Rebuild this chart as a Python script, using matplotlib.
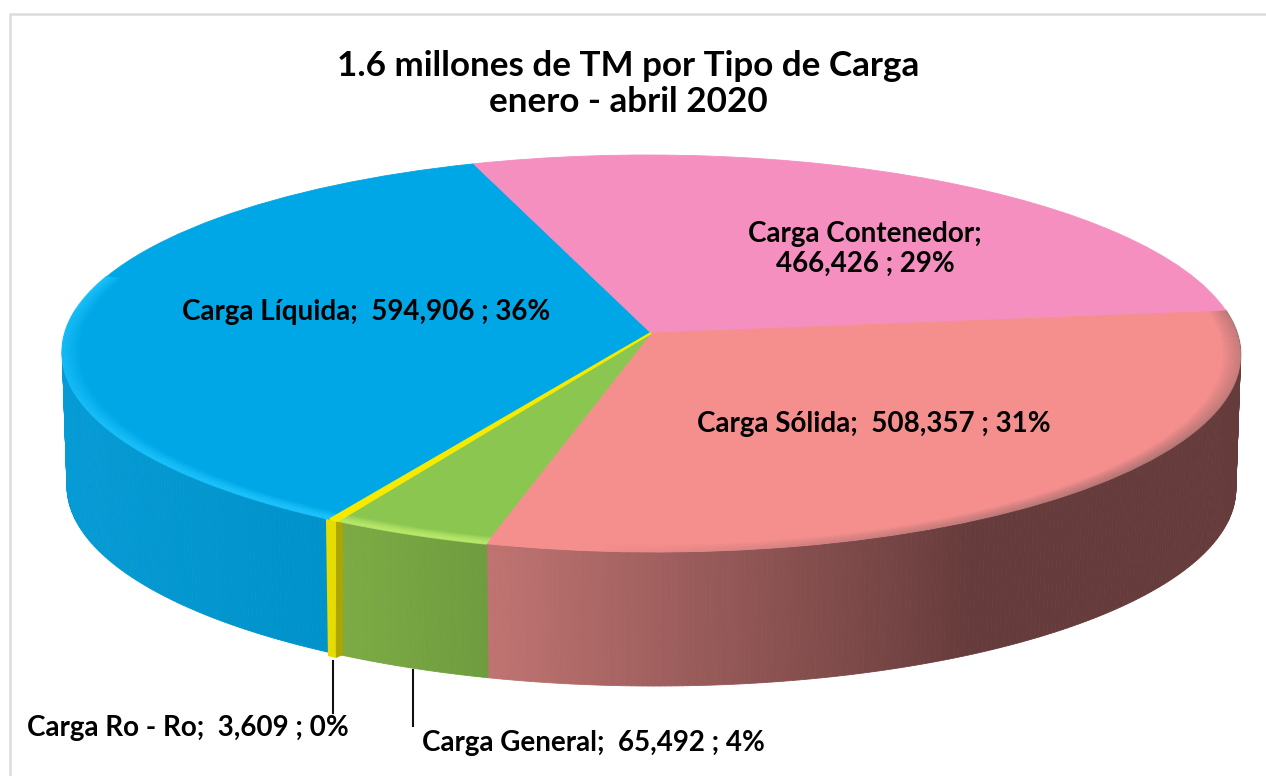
import matplotlib
matplotlib.use('Agg')
import matplotlib.pyplot as plt
from matplotlib.transforms import Transform
from matplotlib.collections import LineCollection
from matplotlib.colors import to_rgb
import numpy as np

categorias = ['Carga Líquida', 'Carga Contenedor', 'Carga Sólida', 'Carga General', 'Carga Ro - Ro']
valores = [594906, 466426, 508357, 65492, 3609]
porcentajes = [36, 29, 31, 4, 0]
colores = ['#00a7e6', '#f48fc0', '#f48f8e', '#8bc651', '#f5ea00']
titulo = '1.6 millones de TM por Tipo de Carga\nenero - abril 2020'

# degrade de la pared lateral (color izq, color der, x izq, x der)
pared = [('#069bd5', '#0092ca', 62, 330),
         None,
         ('#c07472', '#663b3b', 487, 975),
         ('#7cab44', '#6f9c3f', 343, 487),
         None]

CX, CY = 651, 333      # vertice del pie
A, B, K, S = 586, 196.4, 0.1033, 4
PROF = 134             # altura del cilindro
ESC = 0.992


# circulo unidad -> pixeles con perspectiva
class Perspectiva(Transform):
    input_dims = 2
    output_dims = 2
    is_separable = False

    def transform_non_affine(self, v):
        v = np.asarray(v, dtype=float)
        x, y = v[:, 0], v[:, 1]
        w = 1 + K * y
        return np.column_stack([CX + (A * x - S * y) / w, CY - B * y / w])


persp = Perspectiva()


def borde(t, r=1.0):
    t = np.radians(t)
    return persp.transform_non_affine(np.column_stack([r * np.cos(t), r * np.sin(t)]))


def bisel(t0, t1, color, fuerza):
    # fuerza: funcion del angulo, da la opacidad maxima del brillo
    ts = np.arange(t0, t1 + 0.25, 0.25)
    ts = ts[np.sin(np.radians(ts)) < 0.3]
    if len(ts) < 2:
        return
    tm = (ts[:-1] + ts[1:]) / 2
    rgb = to_rgb(color)
    for j, r in enumerate(np.linspace(0.972, 1.0, 9)):
        pts = borde(ts, r)
        segs = np.stack([pts[:-1], pts[1:]], axis=1)
        alfa = fuerza(tm) * (0.1 + 0.9 * j / 8)
        cols = np.column_stack([np.full((len(tm), 3), rgb), alfa])
        ax.add_collection(LineCollection(segs, colors=cols, linewidths=1.4, zorder=3.5, capstyle='butt'))


plt.rcParams['font.family'] = ['Lato', 'DejaVu Sans']

fig = plt.figure(figsize=(12.66, 7.76), dpi=100)
ax = fig.add_axes([0, 0, 1, 1])
wedges, _ = ax.pie(valores, colors=colores, startangle=239.7, counterclock=False)
ax.set_aspect('auto')
ax.set_xlim(0, 1266)
ax.set_ylim(776, 0)
ax.axis('off')

# marco
ax.plot([10, 10, 1266], [776, 14, 14], color='#dcdcdc', lw=1.8, zorder=0, solid_capstyle='butt')

for w, col in zip(wedges, colores):
    w.set_transform(persp + ax.transData)
    w.set_zorder(3)
    w.set_edgecolor(col)
    w.set_linewidth(0.6)
wedges[4].set_linewidth(1.6)
wedges[4].set_zorder(4)

# paredes laterales, tiras verticales
for w, grad in zip(wedges, pared):
    if grad is None:
        continue
    c0, c1 = np.array(to_rgb(grad[0])), np.array(to_rgb(grad[1]))
    ts = np.arange(w.theta1, w.theta2 + 0.5, 0.5)
    ts = ts[np.sin(np.radians(ts)) < 0.13]
    pts = borde(ts)
    for i in range(len(ts) - 1):
        p, q = pts[i], pts[i + 1]
        xm = (p[0] + q[0]) / 2
        f = np.clip((xm - grad[2]) / (grad[3] - grad[2]), 0, 1)
        col = c0 + (c1 - c0) * f
        xs = [p[0], q[0], CX + (q[0] - CX) * ESC, CX + (p[0] - CX) * ESC]
        ys = [p[1], q[1], q[1] + PROF, p[1] + PROF]
        ax.fill(xs, ys, color=col, lw=0.6, zorder=2)

# tira amarilla de Ro - Ro
mid = borde(np.array([(wedges[4].theta1 + wedges[4].theta2) / 2]))[0]
ax.fill([mid[0] - 8, mid[0] + 2, mid[0] + 2, mid[0] - 6], [mid[1] - 2, mid[1] - 5, mid[1] + PROF + 4, mid[1] + PROF + 2],
        color='#e6dc00', lw=0, zorder=2.5)
ax.fill([mid[0] + 2, mid[0] + 9, mid[0] + 9, mid[0] + 2], [mid[1] - 5, mid[1] - 2, mid[1] + PROF + 1, mid[1] + PROF + 4],
        color='#aba600', lw=0, zorder=2.5)

# bisel del borde
bisel(wedges[0].theta1, wedges[0].theta2, '#1fc6ff', lambda t: np.full_like(t, 0.8))
bisel(wedges[3].theta1, wedges[3].theta2, '#b9ea6c', lambda t: np.full_like(t, 0.85))
bisel(wedges[2].theta1, wedges[2].theta2, '#8a6664',
      lambda t: 0.5 * np.clip((t + 95) / 60, 0, 1))

ax.text(628, 84, titulo, ha='center', va='center', fontsize=25.2, fontweight='bold', color='black',
        linespacing=1.18, zorder=6)


def etiqueta(i):
    return f'{categorias[i]};  {valores[i]:,} ; {porcentajes[i]}%'


fs = 20
ax.text(366, 312, etiqueta(0), ha='center', va='center', fontsize=fs, fontweight='bold', zorder=6)
ax.text(865, 249, f'{categorias[1]};\n{valores[1]:,} ; {porcentajes[1]}%', ha='center', va='center',
        fontsize=fs, fontweight='bold', linespacing=1.2, zorder=6)
ax.text(874, 424, etiqueta(2), ha='center', va='center', fontsize=fs, fontweight='bold', zorder=6)
ax.text(422, 743, etiqueta(3), ha='left', va='center', fontsize=fs, fontweight='bold', zorder=6)
ax.text(27, 728, etiqueta(4), ha='left', va='center', fontsize=fs, fontweight='bold', zorder=6)

# lineas guia
ax.plot([333, 333], [661, 713], color='#111111', lw=1.5, zorder=5)
ax.plot([413, 413], [670, 726], color='#111111', lw=1.5, zorder=5)

fig.savefig('out.png', dpi=100)
